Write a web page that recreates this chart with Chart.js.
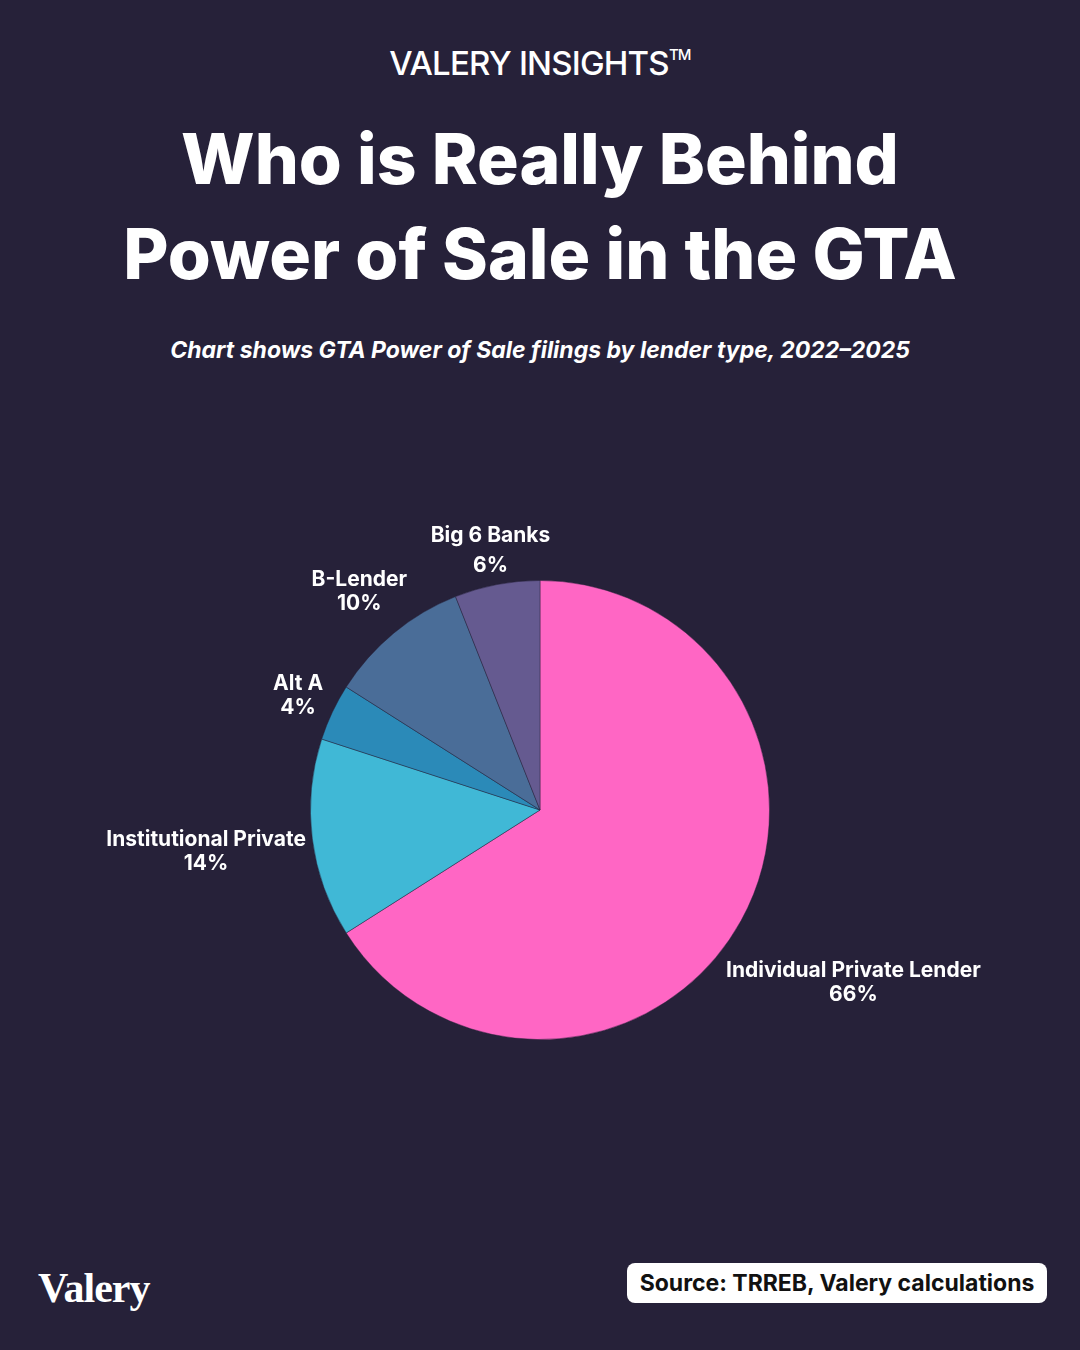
<!DOCTYPE html>
<html>
<head>
<meta charset="utf-8">
<script src="https://cdn.jsdelivr.net/npm/chart.js@4.4.1/dist/chart.umd.min.js"></script>
<style>
  html, body { margin: 0; padding: 0; }
  body { width: 1080px; height: 1350px; background: #262139; position: relative; overflow: hidden; font-family: Inter, "Noto Sans", sans-serif; color: #fff; }
  .brand { position: absolute; top: 43px; width: 100%; text-align: center; font-size: 33px; font-weight: 500; letter-spacing: -0.8px; }
  .brand sup { font-size: 15px; vertical-align: 15px; }
  .title { position: absolute; top: 112px; width: 100%; text-align: center; font-size: 69.5px; font-weight: 800; line-height: 95px; letter-spacing: 0px; }
  .sub { position: absolute; top: 336px; width: 100%; text-align: center; font-size: 23px; font-weight: 700; font-style: italic; }
  #chart { position: absolute; left: 0; top: 400px; }
  .logo { position: absolute; left: 38px; top: 1264px; font-family: "Liberation Serif", "DejaVu Serif", serif; font-weight: 700; font-size: 42px; letter-spacing: -1px; }
  .source { position: absolute; left: 627px; top: 1263px; width: 420px; height: 40px; background: #fff; border-radius: 8px; color: #111; font-weight: 700; font-size: 23px; line-height: 40px; text-align: center; }
</style>
</head>
<body>
<div class="brand">VALERY INSIGHTS<sup>TM</sup></div>
<div class="title">Who is Really Behind<br>Power of Sale in the GTA</div>
<div class="sub">Chart shows GTA Power of Sale filings by lender type, 2022–2025</div>
<canvas id="chart" width="1080" height="820"></canvas>
<div class="logo">Valery</div>
<div class="source">Source: TRREB, Valery calculations</div>
<script>
// Data
const lenders = ['Individual Private Lender', 'Institutional Private', 'Alt A', 'B-Lender', 'Big 6 Banks'];
const shares = [66, 14, 4, 10, 6];
const sliceColors = ['#FF66C4', '#40B8D6', '#2B8AB8', '#4A6D98', '#655A90'];

// Helper: draw name + percent outside each slice
const outsideLabels = {
    id: 'outsideLabels',
    afterDraw(chart) {
        const ctx = chart.ctx;
        const arcs = chart.getDatasetMeta(0).data;
        ctx.save();
        ctx.fillStyle = '#ffffff';
        ctx.font = '700 21px Inter, "Noto Sans", sans-serif';
        ctx.textAlign = 'center';
        ctx.textBaseline = 'middle';
        arcs.forEach((arc, i) => {
            const mid = (arc.startAngle + arc.endAngle) / 2;
            const dx = Math.cos(mid), dy = Math.sin(mid);
            const lines = [lenders[i], shares[i] + '%'];
            const lh = i === 4 ? 30 : 24;
            const gap = i === 4 ? 0 : 5;
            const w = Math.max(...lines.map(t => ctx.measureText(t).width));
            const halfW = w / 2, halfH = 24;
            const r = arc.outerRadius + gap + halfW * Math.abs(dx) + halfH * Math.abs(dy);
            const cx = arc.x + dx * r, cy = arc.y + dy * r;
            lines.forEach((t, k) => {
                ctx.fillText(t, cx, cy + (k - (lines.length - 1) / 2) * lh);
            });
        });
        ctx.restore();
    }
};

new Chart(document.getElementById('chart').getContext('2d'), {
    type: 'pie',
    data: {
        labels: lenders,
        datasets: [{
            data: shares,
            backgroundColor: sliceColors,
            borderColor: 'rgba(38,33,57,0.45)',
            borderWidth: 1
        }]
    },
    options: {
        responsive: false,
        animation: false,
        devicePixelRatio: 1,
        layout: { padding: { left: 310, right: 310, top: 180, bottom: 180 } },
        plugins: {
            legend: { display: false },
            tooltip: { enabled: false }
        }
    },
    plugins: [outsideLabels]
});
</script>
</body>
</html>
